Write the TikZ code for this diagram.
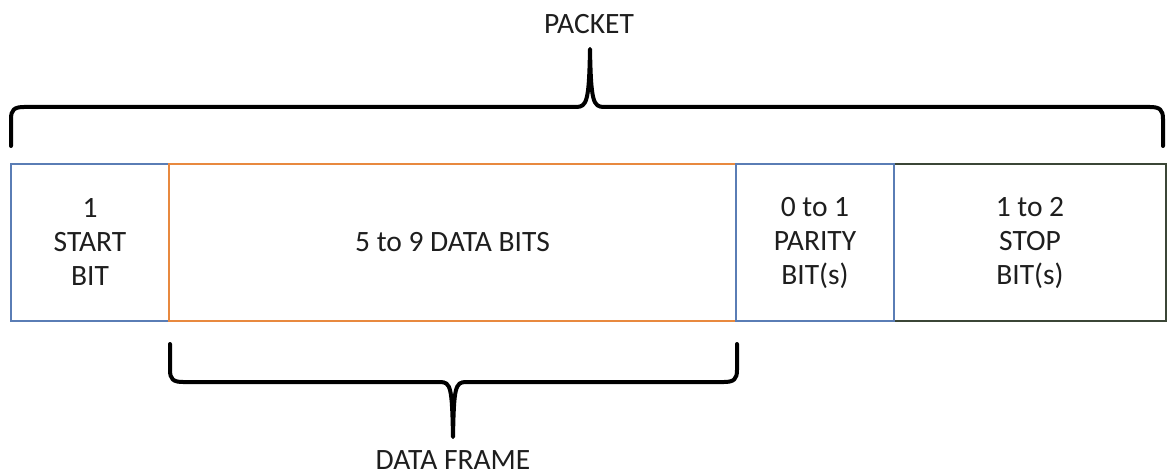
\documentclass[tikz,border=0pt]{standalone}
\usepackage{fontspec}
\setmainfont{Carlito}
\definecolor{cblue}{HTML}{5A7DB5}
\definecolor{corange}{HTML}{E8893F}
\definecolor{cdark}{HTML}{3B4636}
\definecolor{ctext}{HTML}{1E1E1E}
\begin{document}
\begin{tikzpicture}[x=1pt,y=-1pt,
  field/.style={draw, line width=1.6pt, inner sep=0pt, minimum height=157pt, align=center, text=ctext,
    font=\fontsize{29.5}{34}\selectfont},
  lbl/.style={text=ctext, font=\fontsize{29.5}{34}\selectfont, inner sep=0pt},
  brace/.style={line width=4pt, line cap=round, line join=round}]
\useasboundingbox (0,0) rectangle (1168,476);
\fill[white] (0,0) rectangle (1168,476);
\node[field, cblue, minimum width=158pt, text=ctext] (start) at (90,242.5) {1\\START\\BIT};
\node[field, corange, minimum width=567pt, text=ctext] (data) at (452.5,242.5) {5 to 9 DATA BITS};
\node[field, cdark, minimum width=272pt, text=ctext] (stop) at (1030,242.5) {1 to 2\\STOP\\BIT(s)};
\node[field, cblue, minimum width=158pt, text=ctext] (parity) at (815,242.5) {0 to 1\\PARITY\\BIT(s)};
\node[lbl] (packet) at (589,24) {PACKET};
\node[lbl] (frame) at (453,460) {DATA FRAME};
\draw[brace] (11,146) -- (11,119) .. controls (11,110) and (14,107) .. (24,107) -- (576,107)
  .. controls (587,107) and (589,101) .. (590,49)
  .. controls (591,101) and (593,107) .. (604,107) -- (1150,107)
  .. controls (1160,107) and (1163,110) .. (1163,119) -- (1163,146);
\draw[brace] (170,344) -- (170,370) .. controls (170,379) and (173,382) .. (183,382) -- (440,382)
  .. controls (451,382) and (452,388) .. (453,437)
  .. controls (454,388) and (455,382) .. (466,382) -- (724,382)
  .. controls (734,382) and (737,379) .. (737,370) -- (737,344);
\end{tikzpicture}
\end{document}
